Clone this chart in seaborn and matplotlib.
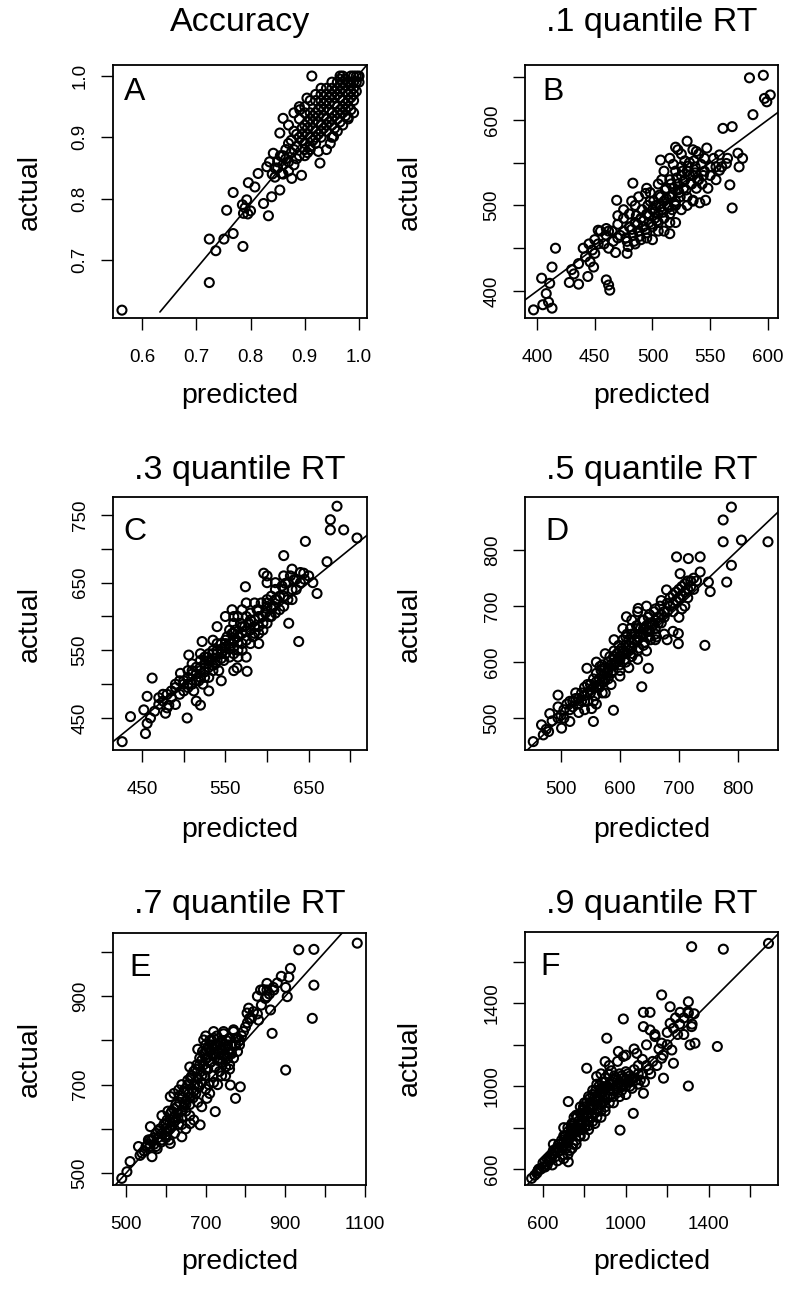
import matplotlib
matplotlib.use("Agg")
import matplotlib.pyplot as plt
import seaborn as sns
import pandas as pd

sns.set_theme(style="white")
plt.rcParams['font.family'] = ['Liberation Sans', 'DejaVu Sans']
for k in ['text.color', 'axes.labelcolor', 'xtick.color', 'ytick.color', 'axes.edgecolor']:
    plt.rcParams[k] = 'black'

# ---------------- data ----------------
titles = ["Accuracy", ".1 quantile RT", ".3 quantile RT",
          ".5 quantile RT", ".7 quantile RT", ".9 quantile RT"]
letters = ["A", "B", "C", "D", "E", "F"]

# Panel A: accuracy
a_pts = [(0.563, 0.618), (0.724, 0.663), (0.724, 0.734), (0.736, 0.715), (0.751, 0.734),
         (0.768, 0.743), (0.786, 0.722), (0.756, 0.781), (0.768, 0.810), (0.787, 0.776),
         (0.793, 0.798), (0.796, 0.826), (0.808, 0.819), (0.824, 0.792), (0.833, 0.772),
         (0.839, 0.803), (0.814, 0.841), (0.830, 0.852), (0.842, 0.874), (0.854, 0.814),
         (0.857, 0.841), (0.876, 0.833), (0.894, 0.838), (0.854, 0.907), (0.860, 0.931),
         (0.891, 0.945), (0.904, 0.964), (0.913, 1.000), (0.928, 0.858), (0.925, 0.877),
         (0.947, 0.890), (0.953, 0.901), (0.965, 1.000), (0.980, 0.933), (0.999, 0.999),
         (0.86, 0.87), (0.87, 0.86), (0.87, 0.89), (0.88, 0.88), (0.88, 0.91), (0.89, 0.87),
         (0.89, 0.90), (0.89, 0.93), (0.90, 0.89), (0.90, 0.92), (0.90, 0.95), (0.90, 0.87),
         (0.91, 0.90), (0.91, 0.93), (0.91, 0.96), (0.91, 0.88), (0.92, 0.91), (0.92, 0.94),
         (0.92, 0.97), (0.92, 0.89), (0.93, 0.92), (0.93, 0.95), (0.93, 0.90), (0.93, 0.97),
         (0.94, 0.93), (0.94, 0.96), (0.94, 0.91), (0.94, 0.98), (0.95, 0.94), (0.95, 0.97),
         (0.95, 0.92), (0.95, 0.99), (0.96, 0.95), (0.96, 0.97), (0.96, 0.93), (0.96, 0.99),
         (0.97, 0.96), (0.97, 0.98), (0.97, 0.94), (0.97, 1.00), (0.98, 0.97), (0.98, 0.99),
         (0.98, 0.95), (0.99, 0.98), (0.99, 1.00), (0.99, 0.96), (1.00, 0.99), (0.975, 0.985),
         (0.985, 0.975), (0.965, 0.985), (0.955, 0.955), (0.945, 0.945), (0.935, 0.935),
         (0.925, 0.925), (0.915, 0.915), (0.905, 0.905), (0.895, 0.895), (0.885, 0.865),
         (0.875, 0.875), (0.935, 0.915), (0.945, 0.925), (0.955, 0.935), (0.965, 0.945),
         (0.925, 0.905), (0.915, 0.895), (0.905, 0.875), (0.96, 0.91), (0.95, 0.90),
         (0.94, 0.88), (0.97, 0.92), (0.98, 0.93), (0.99, 0.94), (0.985, 0.99), (0.995, 0.99),
         (0.965, 0.965), (0.975, 0.955), (0.87, 0.92), (0.88, 0.94), (0.89, 0.95),
         (0.885, 0.905), (0.895, 0.915), (0.905, 0.925), (0.915, 0.935), (0.925, 0.945),
         (0.935, 0.955), (0.945, 0.965), (0.955, 0.975), (0.965, 0.995), (0.975, 0.995),
         (0.985, 1.0), (0.99, 0.99), (0.995, 0.975), (0.98, 0.96), (0.97, 0.95), (0.96, 0.94),
         (0.95, 0.93), (0.94, 0.92), (0.93, 0.91), (0.92, 0.90), (0.91, 0.885), (0.90, 0.88),
         (0.955, 0.965), (0.965, 0.975), (0.975, 0.975), (0.985, 0.985), (0.945, 0.955),
         (0.935, 0.945), (0.925, 0.935), (0.915, 0.925), (0.905, 0.915), (0.895, 0.905),
         (0.885, 0.885), (0.875, 0.895), (0.865, 0.88), (0.86, 0.855), (0.85, 0.86),
         (0.845, 0.85), (0.87, 0.845), (0.88, 0.855), (0.99, 0.97), (1.0, 1.0), (0.995, 1.0),
         (0.97, 0.99), (0.96, 0.98), (0.95, 0.98), (0.94, 0.97), (0.93, 0.96), (0.92, 0.96),
         (0.91, 0.94), (0.90, 0.94), (0.93, 0.98), (0.955, 0.915), (0.965, 0.925),
         (0.975, 0.935), (0.985, 0.945), (0.985, 0.965), (0.975, 0.945), (0.79, 0.785),
         (0.795, 0.775), (0.80, 0.78), (0.785, 0.79), (0.85, 0.85), (0.86, 0.84),
         (0.865, 0.865), (0.855, 0.87), (0.84, 0.84), (0.835, 0.86), (0.845, 0.835)]
a_pred = [p[0] for p in a_pts]
a_act = [p[1] for p in a_pts]

# Panel B: .1 quantile RT
b_pts = [(397, 378), (405, 384), (413, 380), (410, 387), (408, 397), (411, 409), (404, 415),
         (413, 428), (416, 450), (436, 408), (444, 417), (449, 428), (460, 413), (463, 401),
         (462, 407), (453, 471), (460, 473), (450, 444), (446, 434), (469, 506), (478, 444),
         (483, 526), (494, 514), (507, 553), (522, 565), (538, 563), (547, 567), (558, 559),
         (574, 561), (564, 549), (561, 590), (569, 592), (587, 606), (584, 649), (596, 652),
         (597, 625), (602, 629), (599, 621), (567, 524), (569, 497), (546, 506), (541, 503),
         (535, 506), (515, 467), (558, 541),
         (470, 462), (475, 470), (478, 458), (480, 475), (483, 465), (485, 480), (488, 470),
         (490, 460), (490, 485), (492, 475), (495, 490), (495, 468), (497, 480), (500, 495),
         (500, 475), (502, 485), (503, 500), (505, 490), (505, 470), (507, 510), (508, 495),
         (510, 505), (510, 485), (512, 520), (513, 500), (515, 510), (515, 530), (517, 495),
         (518, 520), (520, 540), (520, 505), (522, 525), (523, 515), (525, 535), (525, 545),
         (527, 520), (528, 530), (530, 540), (530, 510), (532, 550), (533, 525), (535, 535),
         (537, 545), (540, 530), (538, 520), (485, 500), (480, 490), (475, 485), (470, 478),
         (465, 470), (460, 465), (458, 455), (455, 470), (450, 460), (445, 455), (462, 450),
         (468, 445), (500, 460), (510, 470), (520, 480), (515, 480), (525, 495), (535, 505),
         (543, 525), (545, 540), (550, 535), (548, 520), (555, 545), (555, 530), (560, 545),
         (488, 510), (495, 520), (505, 525), (498, 505), (515, 555), (525, 560), (530, 575),
         (520, 568), (510, 540),
         (472, 465), (477, 462), (482, 472), (487, 478), (492, 482), (497, 488), (502, 492),
         (507, 498), (512, 508), (517, 512), (522, 518), (527, 528), (532, 535), (537, 538),
         (542, 548), (479, 452), (484, 458), (489, 464), (494, 472), (499, 478), (504, 482),
         (509, 492), (514, 498), (519, 502), (524, 510), (529, 518), (534, 525), (539, 530),
         (544, 535), (486, 488), (491, 495), (496, 500), (501, 505), (506, 512), (511, 518),
         (516, 525), (521, 532), (526, 540), (531, 546), (536, 552), (466, 458), (462, 470),
         (475, 495), (482, 505), (470, 488), (453, 455), (448, 448), (442, 440), (440, 450),
         (436, 432), (432, 420), (428, 410), (430, 425), (545, 555), (550, 545), (553, 555),
         (540, 560), (535, 565), (528, 552), (518, 548), (508, 530), (498, 515), (565, 555),
         (575, 545), (578, 555), (520, 500), (530, 500), (515, 490), (505, 480), (495, 462),
         (485, 455)]
b_pred = [p[0] for p in b_pts]
b_act = [p[1] for p in b_pts]

# Panel C: .3 quantile RT
c_pts = [(426, 415), (436, 452), (452, 462), (456, 442), (454, 427), (462, 509), (456, 482),
         (478, 457), (482, 469), (504, 450), (520, 469), (496, 516), (506, 543), (522, 563),
         (576, 519), (564, 524), (558, 610), (574, 644), (596, 664), (620, 690), (646, 711),
         (626, 590), (638, 563), (660, 634), (672, 681), (708, 716), (684, 763), (676, 743),
         (676, 728), (692, 728), (644, 664), (632, 654), (622, 649),
         (485, 480), (490, 495), (495, 485), (500, 500), (500, 490), (505, 510), (505, 495),
         (510, 500), (510, 520), (512, 490), (515, 515), (518, 505), (520, 525), (520, 510),
         (523, 500), (525, 530), (525, 518), (528, 540), (530, 525), (530, 510), (533, 535),
         (535, 545), (535, 520), (538, 530), (540, 550), (540, 535), (542, 520), (545, 545),
         (545, 560), (548, 535), (550, 555), (550, 545), (552, 570), (555, 560), (555, 540),
         (558, 575), (560, 555), (560, 565), (562, 580), (565, 570), (565, 550), (568, 590),
         (570, 575), (570, 560), (573, 585), (575, 600), (575, 565), (578, 590), (580, 580),
         (580, 605), (583, 570), (585, 595), (588, 610), (590, 585), (590, 600), (593, 620),
         (595, 590), (598, 605), (600, 615), (600, 625), (603, 600), (605, 630), (608, 615),
         (610, 640), (612, 625), (615, 610), (618, 645), (620, 630), (625, 650), (630, 640),
         (628, 660), (635, 655), (640, 665), (515, 475), (530, 490), (545, 505), (560, 520),
         (575, 540), (590, 560), (540, 585), (550, 600), (535, 565), (520, 545), (560, 600),
         (585, 620), (600, 650), (470, 470), (475, 485), (480, 465), (465, 460), (460, 450),
         (490, 470),
         (500, 505), (505, 500), (510, 515), (515, 505), (520, 520), (525, 510), (530, 535),
         (535, 528), (540, 545), (545, 538), (550, 560), (555, 552), (560, 575), (565, 562),
         (570, 585), (575, 578), (580, 595), (585, 585), (590, 610), (595, 600), (600, 620),
         (605, 612), (610, 625), (615, 630), (620, 640), (545, 552), (550, 565), (555, 580),
         (560, 590), (565, 600), (570, 610), (575, 620), (540, 560), (535, 550), (530, 545),
         (525, 540), (520, 535), (515, 525), (510, 530), (505, 520), (495, 505), (490, 500),
         (485, 490), (480, 485), (475, 475), (470, 480), (560, 545), (565, 540), (570, 550),
         (580, 560), (585, 575), (590, 575), (595, 580), (600, 590), (605, 600), (610, 605),
         (620, 615), (625, 625), (630, 625), (635, 640), (640, 650), (645, 655), (650, 660),
         (655, 650), (610, 650), (620, 660), (630, 670), (600, 660)]
c_pred = [p[0] for p in c_pts]
c_act = [p[1] for p in c_pts]

# Panel D: .5 quantile RT
d_pts = [(453, 458), (467, 488), (481, 508), (479, 476), (501, 482), (515, 494), (555, 494),
         (589, 514), (552, 517), (637, 556), (648, 589), (495, 541), (544, 589), (566, 592),
         (611, 681), (631, 696), (679, 729), (702, 758), (696, 788), (716, 785), (736, 788),
         (736, 761), (750, 743), (753, 726), (699, 651), (699, 633), (744, 630), (781, 743),
         (789, 773), (775, 815), (775, 854), (789, 877), (806, 818), (851, 815),
         (520, 520), (525, 535), (530, 525), (535, 545), (535, 530), (540, 540), (540, 555),
         (545, 545), (545, 530), (550, 560), (550, 545), (555, 555), (555, 570), (558, 540),
         (560, 565), (560, 580), (565, 570), (565, 555), (568, 585), (570, 575), (570, 595),
         (573, 565), (575, 590), (578, 580), (580, 600), (580, 570), (583, 610), (585, 595),
         (588, 585), (590, 605), (590, 620), (593, 600), (595, 615), (598, 630), (600, 610),
         (600, 595), (603, 625), (605, 640), (605, 615), (608, 605), (610, 630), (612, 650),
         (615, 620), (615, 640), (618, 660), (620, 635), (622, 615), (625, 650), (628, 665),
         (630, 640), (632, 625), (635, 660), (638, 675), (640, 650), (642, 635), (645, 665),
         (648, 680), (650, 655), (652, 640), (655, 670), (658, 690), (660, 660), (662, 645),
         (665, 680), (668, 700), (670, 670), (675, 690), (680, 705), (685, 700), (690, 720),
         (695, 710), (700, 730), (705, 720), (710, 740), (715, 730), (720, 745), (710, 700),
         (690, 690), (675, 650), (660, 640), (645, 620), (630, 605), (615, 590), (600, 575),
         (585, 560), (570, 545), (555, 530), (540, 515), (530, 510), (525, 545), (515, 530),
         (510, 525), (505, 515), (500, 505), (495, 520), (560, 600), (575, 615), (590, 640),
         (605, 660), (620, 675), (630, 690), (645, 700), (560, 525), (575, 545),
         (560, 555), (565, 560), (570, 565), (575, 570), (580, 585), (585, 580), (590, 595),
         (595, 600), (600, 605), (605, 620), (610, 615), (615, 630), (620, 625), (625, 640),
         (630, 645), (635, 650), (640, 660), (645, 655), (650, 670), (655, 665), (660, 675),
         (665, 670), (670, 685), (675, 680), (680, 690), (685, 715), (690, 705), (695, 725),
         (700, 715), (705, 735), (710, 725), (715, 745), (720, 735), (725, 750), (730, 745),
         (580, 590), (590, 610), (600, 620), (610, 645), (620, 650), (630, 660), (640, 675),
         (650, 685), (660, 695), (670, 710), (600, 585), (610, 600), (620, 610), (630, 620),
         (640, 630), (650, 645), (660, 650), (550, 550), (545, 560), (540, 530), (530, 535),
         (520, 530), (515, 515), (505, 500), (495, 500), (485, 495), (475, 480), (470, 470),
         (680, 640), (690, 655), (700, 680), (705, 695), (715, 715), (725, 730)]
d_pred = [p[0] for p in d_pts]
d_act = [p[1] for p in d_pts]

# Panel E: .7 quantile RT
e_pts = [(489, 488), (510, 526), (531, 560), (502, 503), (565, 537), (561, 605), (556, 575),
         (611, 567), (640, 582), (661, 612), (686, 609), (611, 673), (632, 688), (724, 639),
         (703, 669), (775, 669), (787, 695), (762, 699), (745, 820), (770, 824), (695, 801),
         (703, 778), (804, 862), (808, 873), (833, 846), (863, 869), (867, 816), (854, 914),
         (838, 914), (871, 914), (854, 929), (854, 899), (901, 920), (905, 899), (909, 943),
         (913, 963), (934, 1005), (972, 1006), (1081, 1020), (972, 925), (968, 850), (901, 733),
         (560, 560), (565, 575), (570, 565), (575, 590), (578, 555), (580, 580), (585, 600),
         (588, 570), (590, 590), (595, 610), (598, 585), (600, 600), (603, 620), (605, 595),
         (608, 575), (610, 615), (612, 635), (615, 605), (618, 625), (620, 645), (622, 590),
         (625, 620), (628, 650), (630, 635), (632, 610), (635, 660), (638, 640), (640, 625),
         (642, 670), (645, 650), (648, 690), (650, 640), (652, 665), (655, 700), (658, 680),
         (660, 655), (662, 715), (665, 690), (668, 670), (670, 730), (672, 700), (675, 680),
         (678, 745), (680, 715), (683, 695), (685, 760), (688, 730), (690, 705), (692, 775),
         (695, 745), (698, 720), (700, 790), (703, 760), (705, 735), (708, 700), (710, 775),
         (712, 750), (715, 800), (718, 720), (720, 765), (722, 740), (725, 790), (728, 810),
         (730, 755), (733, 770), (735, 730), (738, 795), (740, 780), (742, 750), (745, 815),
         (748, 770), (750, 740), (752, 800), (755, 760), (758, 780), (760, 745), (765, 790),
         (770, 760), (775, 805), (780, 775), (785, 790), (790, 810), (800, 830), (810, 850),
         (820, 865), (605, 640), (590, 630), (620, 680), (640, 700), (660, 740), (680, 780),
         (700, 810), (720, 820), (650, 600), (670, 620), (690, 650), (710, 680), (730, 700),
         (750, 720),
         (600, 610), (610, 600), (620, 615), (630, 625), (640, 640), (650, 655), (660, 670),
         (670, 685), (680, 700), (690, 720), (700, 735), (710, 750), (720, 780), (730, 790),
         (740, 800), (750, 785), (760, 805), (770, 820), (615, 640), (625, 655), (635, 675),
         (645, 685), (655, 710), (665, 720), (675, 735), (685, 745), (695, 770), (705, 785),
         (715, 790), (725, 770), (735, 760), (745, 765), (755, 790), (765, 770), (775, 790),
         (785, 800), (640, 610), (660, 630), (680, 660), (700, 690), (720, 705), (740, 720),
         (760, 735), (580, 595), (570, 580), (560, 575), (555, 565), (550, 560), (545, 550),
         (540, 545), (535, 540), (575, 560), (590, 575), (600, 580), (700, 760), (690, 755),
         (710, 800), (720, 805), (730, 775), (745, 790), (760, 770), (780, 805), (795, 820),
         (805, 840), (815, 850), (830, 860), (840, 880), (850, 895), (860, 905), (870, 920),
         (880, 930), (890, 945), (830, 900), (845, 915)]
e_pred = [p[0] for p in e_pts]
e_act = [p[1] for p in e_pts]

# Panel F: .9 quantile RT
f_pts = [(545, 555), (577, 595), (1689, 1690), (1318, 1674), (1471, 1662), (1173, 1441),
         (988, 1325), (1085, 1357), (1117, 1357), (1214, 1384), (1302, 1408), (1262, 1357),
         (1302, 1353), (1214, 1304), (1318, 1288), (1334, 1208), (1442, 1192), (1302, 1001),
         (908, 1232), (964, 1168), (988, 1144), (1053, 1159), (1085, 1288), (1117, 1272),
         (1141, 1240), (1173, 1208), (1222, 1175), (1173, 1135), (1230, 1111), (1182, 1039),
         (811, 1087), (859, 1047), (900, 1119), (972, 788), (722, 926), (722, 635), (1036, 869),
         (1085, 966),
         (560, 570), (575, 590), (590, 600), (600, 630), (610, 610), (620, 650), (630, 640),
         (640, 670), (645, 620), (650, 690), (660, 660), (665, 700), (670, 640), (675, 720),
         (680, 690), (690, 740), (695, 670), (700, 710), (705, 760), (710, 700), (715, 730),
         (720, 780), (725, 750), (730, 690), (735, 800), (740, 760), (745, 720), (750, 820),
         (755, 780), (760, 740), (765, 850), (770, 800), (775, 760), (780, 870), (785, 830),
         (790, 790), (795, 900), (800, 850), (805, 810), (810, 920), (815, 870), (820, 830),
         (825, 940), (830, 890), (835, 850), (840, 960), (845, 910), (850, 870), (855, 980),
         (860, 930), (865, 890), (870, 1000), (875, 950), (880, 910), (885, 1020), (890, 970),
         (895, 930), (900, 1040), (905, 990), (910, 950), (915, 1060), (920, 1010), (925, 960),
         (930, 1075), (935, 1020), (940, 980), (945, 1050), (950, 1000), (960, 1030), (970, 1060),
         (980, 1000), (990, 1040), (1000, 1070), (1010, 1020), (1020, 1050), (1040, 1080),
         (1050, 1030), (1060, 1100), (700, 650), (720, 670), (740, 700), (760, 720), (800, 760),
         (820, 790), (850, 820), (880, 850), (900, 880), (940, 920), (970, 950), (1000, 960),
         (1030, 990), (1060, 1010), (650, 720), (700, 800), (750, 850), (800, 900), (850, 950),
         (880, 1060), (920, 1100), (960, 1120), (1000, 1150), (1040, 1180), (1080, 1130),
         (1100, 1100), (1120, 1060), (1150, 1100), (1180, 1150), (1200, 1200), (1230, 1280),
         (1250, 1250), (1260, 1300), (1280, 1330), (1100, 1200), (1140, 1250), (1160, 1180),
         (1200, 1260), (1240, 1330), (1280, 1250), (1300, 1360), (1320, 1300), (1310, 1200),
         (1330, 1350),
         (570, 580), (580, 600), (600, 610), (610, 640), (620, 620), (630, 660), (640, 650),
         (650, 670), (660, 690), (670, 700), (680, 720), (690, 700), (700, 730), (710, 760),
         (720, 740), (730, 770), (740, 790), (750, 780), (760, 800), (770, 830), (780, 820),
         (790, 850), (800, 870), (810, 860), (820, 890), (830, 910), (840, 900), (850, 930),
         (860, 950), (870, 940), (880, 970), (890, 990), (900, 960), (910, 1000), (920, 980),
         (930, 1010), (940, 1030), (950, 1040), (960, 1000), (970, 1020), (980, 1050),
         (990, 1010), (1000, 1030), (1010, 1060), (1020, 1000), (1030, 1040), (700, 760),
         (720, 800), (740, 820), (760, 860), (780, 900), (800, 920), (820, 950), (840, 980),
         (860, 1010), (880, 990), (900, 1020), (760, 780), (780, 760), (800, 800), (820, 810),
         (840, 830), (860, 850), (880, 880), (900, 900), (920, 920), (940, 950), (960, 970),
         (980, 980), (1000, 1000), (1020, 1020), (1040, 1040), (1060, 1060), (1080, 1060),
         (1070, 1030), (1090, 1020), (1110, 1080), (1130, 1120)]
f_pred = [p[0] for p in f_pts]
f_act = [p[1] for p in f_pts]

# reference lines (endpoints)
a_line_x = [0.633, 1.02]
a_line_y = [0.615, 1.024]
b_line = [370, 620]
c_line = [400, 730]
d_line = [430, 900]
e_line = [460, 1110]
f_line = [500, 1760]

# axis ticks and labels
a_xticks = [0.6, 0.7, 0.8, 0.9, 1.0]; a_xlabs = ["0.6", "0.7", "0.8", "0.9", "1.0"]
a_yticks = [0.7, 0.8, 0.9, 1.0]; a_ylabs = ["0.7", "0.8", "0.9", "1.0"]
b_xticks = [400, 450, 500, 550, 600]; b_xlabs = ["400", "450", "500", "550", "600"]
b_yticks = [400, 450, 500, 550, 600, 650]; b_ylabs = ["400", "", "500", "", "600", ""]
c_xticks = [450, 500, 550, 600, 650, 700]; c_xlabs = ["450", "", "550", "", "650", ""]
c_yticks = [450, 500, 550, 600, 650, 700, 750]; c_ylabs = ["450", "", "550", "", "650", "", "750"]
d_xticks = [500, 600, 700, 800]; d_xlabs = ["500", "600", "700", "800"]
d_yticks = [500, 600, 700, 800]; d_ylabs = ["500", "600", "700", "800"]
e_xticks = [500, 600, 700, 800, 900, 1000, 1100]; e_xlabs = ["500", "", "700", "", "900", "", "1100"]
e_yticks = [500, 600, 700, 800, 900, 1000]; e_ylabs = ["500", "", "700", "", "900", ""]
f_xticks = [600, 800, 1000, 1200, 1400, 1600]; f_xlabs = ["600", "", "1000", "", "1400", ""]
f_yticks = [600, 800, 1000, 1200, 1400, 1600]; f_ylabs = ["600", "", "1000", "", "1400", ""]

# ---------------- layout ----------------
W, H = 788, 1289
fig = plt.figure(figsize=(W / 100, H / 100), dpi=100)

# (left, top, right, bottom) of each plot box in pixels
boxes = [(113, 65, 367, 318), (525, 65, 778, 318),
         (113, 497, 367, 750), (525, 497, 778, 750),
         (113, 933, 366, 1185), (525, 932, 778, 1185)]
xlims = [(0.5465, 1.0147), (389.6, 608.7), (415, 720), (439, 868), (467, 1103), (513, 1735)]
ylims = [(0.6052, 1.018), (368.5, 664), (402.7, 776.6), (443, 895), (473, 1043), (523, 1745)]
title_px = [22, 22, 470, 470, 905, 905]
letter_pos = [(0.087, 0.893), (0.111, 0.893), (0.087, 0.862), (0.126, 0.862),
              (0.107, 0.861), (0.099, 0.861)]
xlabel_px = [396, 396, 830, 830, 1262, 1262]
ylabel_px = [30, 410, 30, 410, 30, 410]

panels = [
    (a_pred, a_act, a_line_x, a_line_y, a_xticks, a_xlabs, a_yticks, a_ylabs),
    (b_pred, b_act, b_line, b_line, b_xticks, b_xlabs, b_yticks, b_ylabs),
    (c_pred, c_act, c_line, c_line, c_xticks, c_xlabs, c_yticks, c_ylabs),
    (d_pred, d_act, d_line, d_line, d_xticks, d_xlabs, d_yticks, d_ylabs),
    (e_pred, e_act, e_line, e_line, e_xticks, e_xlabs, e_yticks, e_ylabs),
    (f_pred, f_act, f_line, f_line, f_xticks, f_xlabs, f_yticks, f_ylabs),
]

for i, (px, py, lx, ly, xt, xl, yt, yl) in enumerate(panels):
    l, t, r, b = boxes[i]
    ax = fig.add_axes([l / W, 1 - b / H, (r - l) / W, (b - t) / H])
    df = pd.DataFrame({"predicted": px, "actual": py})
    sns.scatterplot(data=df, x="predicted", y="actual", ax=ax, marker="o", s=42,
                    facecolor="none", edgecolor="black", linewidth=1.5, zorder=3)
    ldf = pd.DataFrame({"x": lx, "y": ly})
    sns.lineplot(data=ldf, x="x", y="y", ax=ax, color="black", linewidth=1.2,
                 sort=False, estimator=None, zorder=2)
    ax.set_xlim(*xlims[i])
    ax.set_ylim(*ylims[i])
    ax.set_xticks(xt)
    ax.set_xticklabels(xl)
    ax.set_yticks(yt)
    ax.set_yticklabels(yl, rotation=90, va="center")
    ax.tick_params(axis="both", which="major", direction="out", length=8.5, width=1.0,
                   color="black", labelsize=13.5, labelcolor="black", bottom=True, left=True)
    ax.tick_params(axis="x", pad=14)
    ax.tick_params(axis="y", pad=9)
    for sp in ax.spines.values():
        sp.set_visible(True)
        sp.set_color("black")
        sp.set_linewidth(1.3)
    hgt = b - t
    wid = r - l
    ax.set_title(titles[i], fontsize=24.5, y=(b - title_px[i]) / hgt, va="center", pad=0,
                 color="black")
    ax.text(letter_pos[i][0], letter_pos[i][1], letters[i], transform=ax.transAxes,
            fontsize=23, ha="center", va="center", color="black")
    ax.set_xlabel("predicted", fontsize=20.5, color="black")
    ax.set_ylabel("actual", fontsize=20.5, color="black")
    ax.xaxis.set_label_coords(0.5, (b - xlabel_px[i]) / hgt)
    ax.xaxis.label.set_va("center")
    ax.yaxis.set_label_coords((ylabel_px[i] - l) / wid, 0.5)
    ax.yaxis.label.set_va("center")
    ax.grid(False)

fig.savefig("out.png", dpi=100, facecolor="white")
